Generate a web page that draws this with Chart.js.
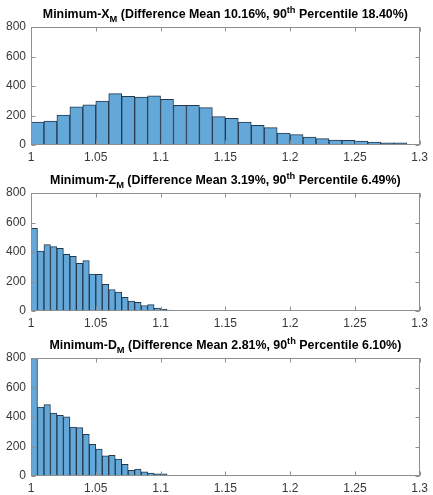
<!DOCTYPE html>
<html>
<head>
<meta charset="utf-8">
<script src="https://cdn.jsdelivr.net/npm/chart.js@4"></script>
<style>
  html, body { margin: 0; padding: 0; background: #fff; overflow: hidden; }
  .panel { position: absolute; left: 0; width: 433px; height: 165px; }
</style>
</head>
<body>
<div class="panel" style="top:0px"><canvas id="xmChart"></canvas></div>
<div class="panel" style="top:166px"><canvas id="zmChart"></canvas></div>
<div class="panel" style="top:331px"><canvas id="dmChart"></canvas></div>
<script>
// Histogram counts
const xStart = 1;
const xmBinWidth = 0.01;
const xmCounts = [156, 163, 203, 258, 272, 298, 348, 330, 325, 334, 310, 269, 269, 253, 192,
                  181, 156, 133, 118, 81, 70, 54, 43, 34, 32, 27, 20, 14, 14, 5];
const zmBinWidth = 0.005;
const zmCounts = [560, 407, 450, 436, 425, 384, 371, 323, 342, 251, 248, 180, 146, 128, 92,
                  68, 58, 37, 43, 19, 11, 6, 5, 4, 4, 2, 1, 1, 1];
const dmBinWidth = 0.005;
const dmCounts = [800, 468, 484, 427, 411, 402, 332, 328, 282, 215, 183, 136, 140, 115, 79,
                  38, 47, 29, 20, 14, 14, 5, 4, 4, 3, 1];

// Titles
const titleVars = ['X', 'Z', 'D'];
const meanDiffs = ['10.16%', '3.19%', '2.81%'];
const pct90s = ['18.40%', '6.49%', '6.10%'];

// Axes
const xTicks = [1, 1.05, 1.1, 1.15, 1.2, 1.25, 1.3];
const yTicks = [0, 200, 400, 600, 800];

const barFill = 'rgb(99,168,216)';
const barEdge = '#24384c';
const axisColor = '#8f8f8f';
const labelColor = '#383838';
const fontFamily = '"Liberation Sans", Arial, Helvetica, sans-serif';

function toPoints(counts, width) {
  return counts.map((c, i) => ({ x: xStart + (i + 0.5) * width, y: c }));
}

// MATLAB-like box, inward ticks and title with sub/superscripts
const matlabAxes = {
  id: 'matlabAxes',
  afterDraw(chart, args, opts) {
    const { ctx, chartArea: a, scales } = chart;
    ctx.save();
    ctx.strokeStyle = axisColor;
    ctx.lineWidth = 1;
    const L = Math.round(a.left) + 0.5, R = Math.round(a.right) - 0.5;
    const T = Math.round(a.top) + 0.5, B = Math.round(a.bottom) - 0.5;
    ctx.strokeRect(L, T, R - L, B - T);
    const tl = 4;
    ctx.beginPath();
    xTicks.forEach(v => {
      const px = Math.round(scales.x.getPixelForValue(v)) + 0.5;
      ctx.moveTo(px, B); ctx.lineTo(px, B - tl);
      ctx.moveTo(px, T); ctx.lineTo(px, T + tl);
    });
    yTicks.forEach(v => {
      const py = Math.round(scales.y.getPixelForValue(v)) + 0.5;
      ctx.moveTo(L, py); ctx.lineTo(L + tl, py);
      ctx.moveTo(R, py); ctx.lineTo(R - tl, py);
    });
    ctx.stroke();

    // title
    const size = opts.size || 12.4;
    const big = 'bold ' + size + 'px ' + fontFamily;
    const small = 'bold ' + (size * 0.75) + 'px ' + fontFamily;
    const parts = [
      { t: 'Minimum-' + opts.v, f: big, dy: 0 },
      { t: 'M', f: small, dy: 4 },
      { t: ' (Difference Mean ' + opts.mean + ', 90', f: big, dy: 0 },
      { t: 'th', f: small, dy: -5 },
      { t: ' Percentile ' + opts.p90 + ')', f: big, dy: 0 }
    ];
    let total = 0;
    parts.forEach(p => { ctx.font = p.f; p.w = ctx.measureText(p.t).width; total += p.w; });
    let x = (a.left + a.right) / 2 - total / 2;
    const base = a.top - 9;
    ctx.fillStyle = '#000';
    ctx.textBaseline = 'alphabetic';
    ctx.textAlign = 'left';
    parts.forEach(p => {
      ctx.font = p.f;
      ctx.fillText(p.t, x, base + p.dy);
      x += p.w;
    });
    ctx.restore();
  }
};

function makeChart(id, counts, width, idx) {
  return new Chart(document.getElementById(id), {
    type: 'bar',
    data: {
      datasets: [{
        data: toPoints(counts, width),
        backgroundColor: barFill,
        borderColor: barEdge,
        borderWidth: 1,
        barPercentage: 1,
        categoryPercentage: 1,
      }]
    },
    options: {
      responsive: true,
      maintainAspectRatio: false,
      animation: false,
      layout: { padding: { top: 27, right: 7, left: 0, bottom: 0 } },
      plugins: {
        legend: { display: false },
        tooltip: { enabled: false },
        matlabAxes: { v: titleVars[idx], mean: meanDiffs[idx], p90: pct90s[idx] }
      },
      scales: {
        x: {
          type: 'linear',
          offset: false,
          min: 1, max: 1.3,
          afterBuildTicks: s => { s.ticks = xTicks.map(v => ({ value: v })); },
          afterFit: s => { s.height = 20; },
          grid: { display: false, drawTicks: false },
          border: { display: false },
          ticks: {
            padding: 5,
            maxRotation: 0,
            autoSkip: false,
            color: labelColor,
            font: { family: fontFamily, size: 12 },
            callback: v => String(+v.toFixed(2))
          }
        },
        y: {
          min: 0, max: 800,
          afterBuildTicks: s => { s.ticks = yTicks.map(v => ({ value: v })); },
          afterFit: s => { s.width = 31; },
          grid: { display: false, drawTicks: false },
          border: { display: false },
          ticks: {
            padding: 5,
            color: labelColor,
            font: { family: fontFamily, size: 12 }
          }
        }
      }
    },
    plugins: [matlabAxes]
  });
}

makeChart('xmChart', xmCounts, xmBinWidth, 0);
makeChart('zmChart', zmCounts, zmBinWidth, 1);
makeChart('dmChart', dmCounts, dmBinWidth, 2);
</script>
</body>
</html>
